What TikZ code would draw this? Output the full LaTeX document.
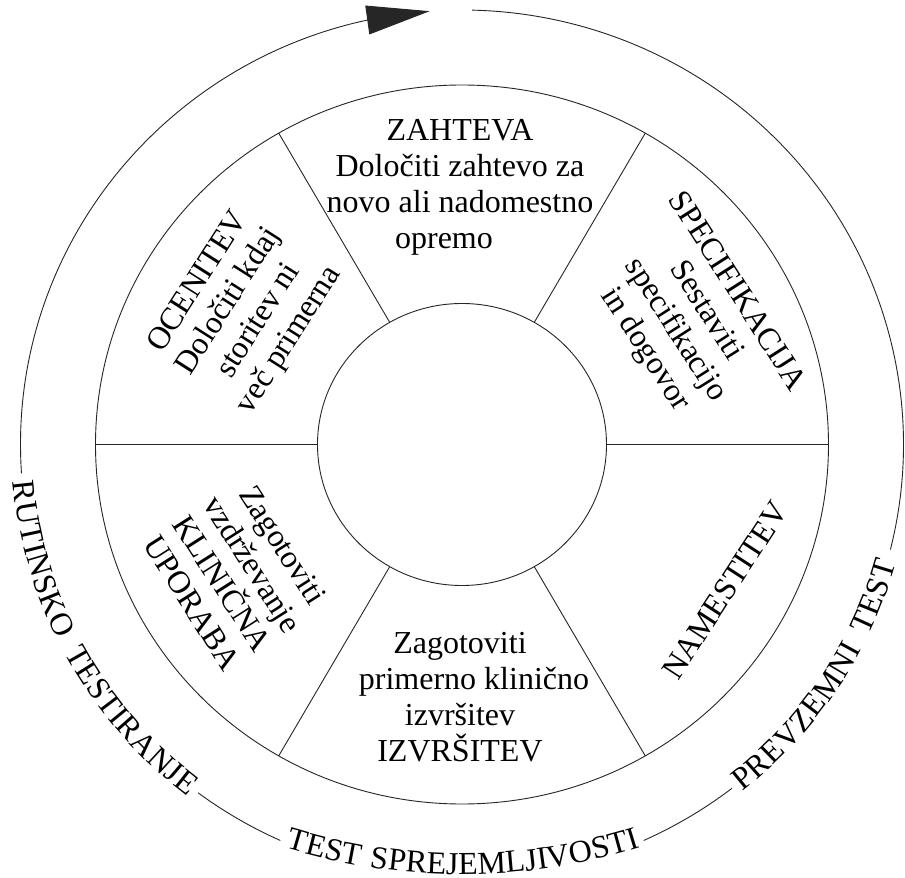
\documentclass[tikz,border=0pt]{standalone}
\usepackage{fontspec}
\setmainfont{Liberation Serif}
\usetikzlibrary{decorations.text,arrows.meta,bending}
\newcommand\arcfont{\fontsize{32}{36}\selectfont}
\begin{document}
\begin{tikzpicture}[x=1pt,y=1pt,
  ring/.style={line width=0.9pt, draw=black!85},
  divider/.style={line width=0.9pt, draw=black!85},
  sectortext/.style={align=center, font=\fontsize{32}{36}\selectfont, inner sep=0pt},
  arctext/.style 2 args={decorate, decoration={text along path,
      text={|\arcfont|#1}, text align={fit to path stretching spaces}, raise=#2}}
]
\fill[white] (-462,-433.5) rectangle (443,444.5);
\useasboundingbox (-462,-433.5) rectangle (443,444.5);

% centre circle and ring
\draw[ring] (0,0) ellipse[x radius=144.5, y radius=141];
\draw[ring] (0,0) ellipse[x radius=366.5, y radius=359.5];
\foreach \a in {0,60,120,180,240,300}{
  \coordinate (in\a) at (\a:144.5 and 141);
  \coordinate (out\a) at (\a:366.5 and 359.5);
  \draw[divider] (in\a) -- (out\a);
}

% outer cycle arcs
\draw[ring, -{Triangle[length=63pt,width=29pt,flex]}]
  (183.8:441.5 and 434.5) arc[start angle=183.8, end angle=94.2, x radius=441.5, y radius=434.5];
\draw[ring] (-14:441.5 and 434.5) arc[start angle=-14, end angle=88.7, x radius=441.5, y radius=434.5];
\draw[ring] (233.3:441.5 and 434.5) arc[start angle=233.3, end angle=245.7, x radius=441.5, y radius=434.5];
\draw[ring] (294.3:441.5 and 434.5) arc[start angle=294.3, end angle=307.7, x radius=441.5, y radius=434.5];

% texts on the outer cycle
\path[arctext={RUTINSKO TESTIRANJE}{-9pt}]
  (184.8:441.5 and 434.5) arc[start angle=184.8, end angle=232.5, x radius=441.5, y radius=434.5];
\coordinate (bc) at (0,167);
\path[arctext={TEST SPREJEMLJIVOSTI}{0pt}]
  ([shift={(bc)}]252.8:597) arc[start angle=252.8, end angle=287.4, radius=597];
\path[arctext={PREVZEMNI TEST}{-9pt}]
  (308.5:441.5 and 434.5) arc[start angle=308.5, end angle=344.5, x radius=441.5, y radius=434.5];

% sector texts
\node[sectortext] (zahteva) at (-2,257)
  {ZAHTEVA\\Določiti zahtevo za\\novo ali nadomestno\\opremo\hspace*{32pt}};
\node[sectortext, rotate=-57.5] (specifikacija) at (228,123.5)
  {SPECIFIKACIJA\\Sestaviti\\specifikacijo\\in dogovor};
\node[sectortext, rotate=57] (namestitev) at (263,-146) {NAMESTITEV};
\node[sectortext] (izvrsitev) at (-2,-252.5)
  {Zagotoviti\\\hspace*{28pt}primerno klinično\\izvršitev\hspace*{16pt}\\IZVRŠITEV};
\node[sectortext, rotate=-57.5] (uporaba) at (-224.5,-129.5)
  {Zagotoviti\\vzdrževanje\\KLINIČNA\\UPORABA};
\node[sectortext, rotate=57.5] (ocenitev) at (-217.5,133)
  {OCENITEV\\Določiti kdaj\\storitev ni\\več primerna};
\end{tikzpicture}
\end{document}
